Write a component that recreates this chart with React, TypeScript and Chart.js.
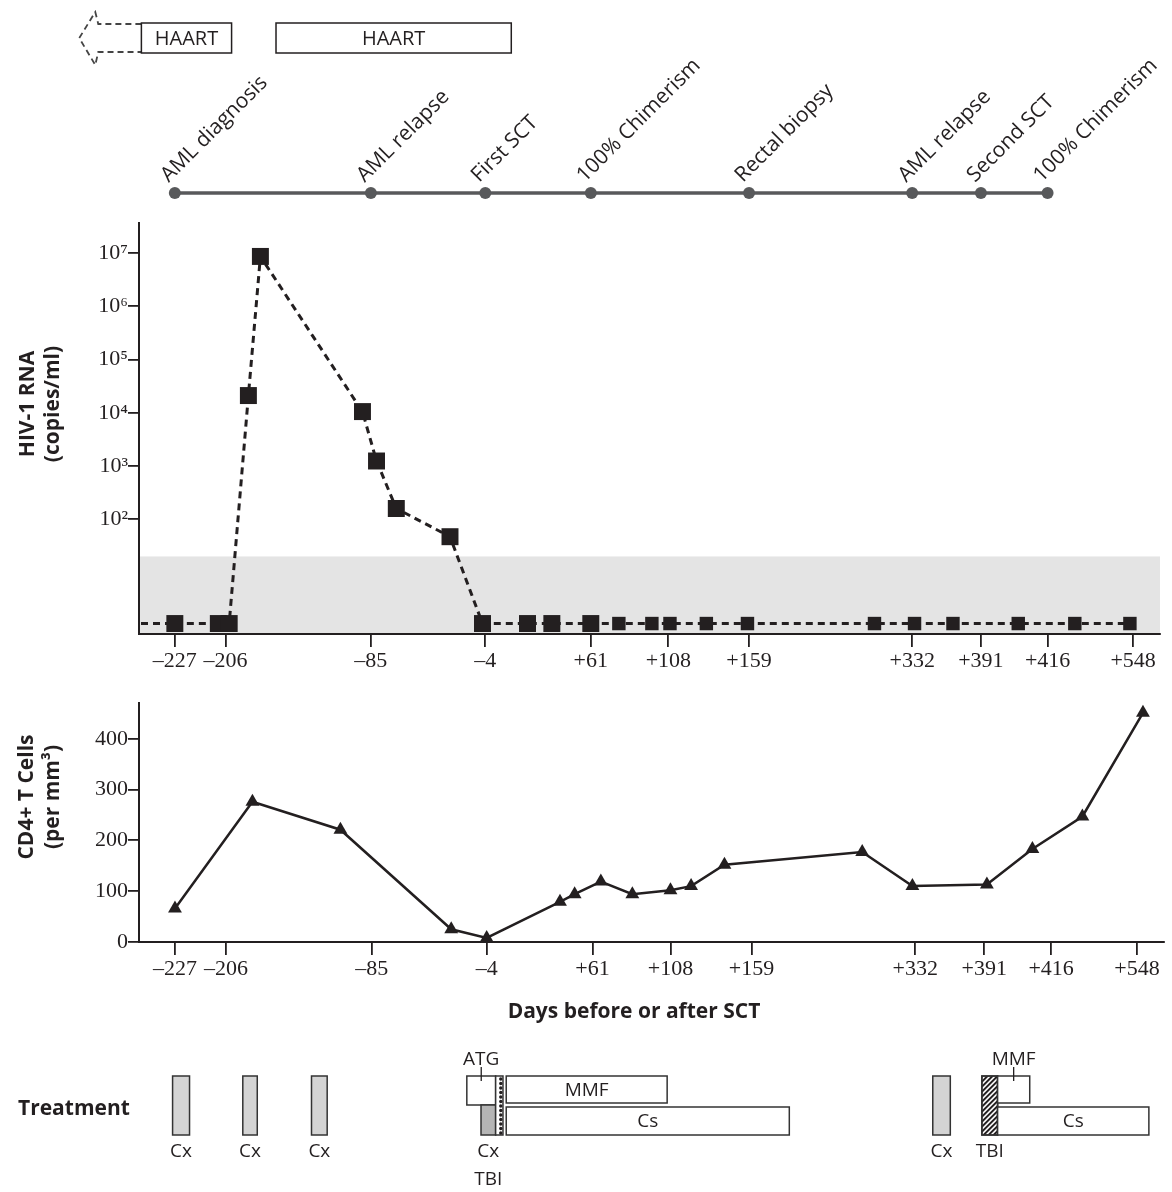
import React, { useEffect, useRef } from "react";
import { Chart, registerables, LinearScale } from "chart.js";

// ---------------- data (days relative to the first stem-cell transplantation) ----------------
const X_TICK_DAYS = [-227, -206, -85, -4, 61, 108, 159, 332, 391, 416, 548];
const HIV_TICKS = [1e2, 1e3, 1e4, 1e5, 1e6, 1e7];
const CD4_TICKS = [0, 100, 200, 300, 400];

const UNDETECTABLE = 1.1; // plotted level of samples below detection
const DETECTION_LIMIT = 20;

const HIV_DAYS = [-227, -209, -203, -187, -177, -92, -81, -67, -29, -6, 22, 37, 61, 78, 98, 109, 132, 158, 292, 334, 367, 405, 458, 543];
const U = UNDETECTABLE;
const HIV_COPIES = [U, U, U, 21000, 8600000, 10500, 1240, 159, 47, U, U, U, U, U, U, U, U, U, U, U, U, U, U, U];

const CD4_DAYS = [-227, -184, -111, -29, -4, 41, 50, 66, 85, 108, 121, 142, 276, 329, 392, 409, 464, 557];
const CD4_COUNTS = [66, 276, 221, 25, 8, 79, 94, 119, 94, 102, 110, 152, 177, 110, 113, 183, 247, 451];

const EVENT_DAYS = [-227, -85, -4, 61, 159, 332, 391, 416];
const EVENT_LABELS = ["AML diagnosis", "AML relapse", "First SCT", "100% Chimerism", "Rectal biopsy", "AML relapse", "Second SCT", "100% Chimerism"];

const HAART_PERIODS = [[-241, -201], [-164, 12]];
const HAART_PRIOR_TIP = -267; // dashed arrow: HAART before the plotted period

const CHEMO_CYCLES = [[-228, -221], [-192, -180], [-135, -122], [347, 362]]; // "Cx"
const ATG_PERIOD = [-18, 1.5];
const CX_CONDITIONING = [-8, 1.5];
const TBI_PERIODS = [[1.5, 6], [389, 396]];
const MMF_PERIODS = [[8, 106], [396, 408]];
const CS_PERIODS = [[8, 199], [396, 566]];

// ---------------- broken day axis (figure axis is not linear in days) ----------------
const KNOT_DAYS = [-242, -227, -206, -85, -4, 61, 108, 159, 332, 391, 416, 548, 589];
const KNOT_FRAC = [0, 0.0351, 0.0848, 0.2271, 0.3392, 0.4425, 0.5185, 0.5975, 0.7573, 0.8246, 0.8899, 0.9737, 1];

function interp(v: number, from: number[], to: number[]) {
  let i = 0;
  while (i < from.length - 2 && v > from[i + 1]) i++;
  return to[i] + ((v - from[i]) * (to[i + 1] - to[i])) / (from[i + 1] - from[i]);
}

class SegmentedDayScale extends LinearScale {
  static id = "segmentedDays";
  static defaults = {};
  getPixelForValue(value: any) {
    if (value === null || value === undefined || isNaN(value)) return NaN;
    return this.getPixelForDecimal(interp(value, KNOT_DAYS, KNOT_FRAC));
  }
  getValueForPixel(pixel: number) {
    return interp(this.getDecimalForPixel(pixel), KNOT_FRAC, KNOT_DAYS);
  }
}

Chart.register(...registerables, SegmentedDayScale);

// ---------------- styles ----------------
const INK = "#231f20";
const SANS = "'Open Sans', 'DejaVu Sans', sans-serif";
const SERIF = "'Liberation Serif', 'DejaVu Serif', serif";
const SUP: Record<number, string> = { 2: "\u00b2", 3: "\u00b3", 4: "\u2074", 5: "\u2075", 6: "\u2076", 7: "\u2077" };
const fmtDay = (v: number) => (v < 0 ? "\u2013" + Math.abs(v) : "+" + v);

function dayAxis(height: number) {
  return {
    type: "segmentedDays",
    min: KNOT_DAYS[0],
    max: KNOT_DAYS[KNOT_DAYS.length - 1],
    afterBuildTicks: (s: any) => {
      s.ticks = X_TICK_DAYS.map((v) => ({ value: v }));
    },
    afterFit: (s: any) => {
      s.height = height;
    },
    ticks: {
      autoSkip: false,
      maxRotation: 0,
      padding: 1,
      color: INK,
      font: { family: SERIF, size: 22 },
      callback: (v: any) => fmtDay(Number(v)),
    },
    grid: { drawOnChartArea: false, tickLength: 13, color: INK, lineWidth: 1.8 },
    border: { display: true, color: INK, width: 2 },
  };
}

function yAxisCommon() {
  return {
    afterFit: (s: any) => {
      s.width = 139;
    },
    grid: { drawOnChartArea: false, tickLength: 11, color: INK, lineWidth: 1.8 },
    border: { display: true, color: INK, width: 2 },
  };
}

function drawVerticalTitle(ctx: CanvasRenderingContext2D, lines: string[], xs: number[], cy: number) {
  ctx.save();
  ctx.font = `bold 21px ${SANS}`;
  ctx.fillStyle = INK;
  ctx.textAlign = "center";
  ctx.textBaseline = "middle";
  lines.forEach((t, i) => {
    ctx.save();
    ctx.translate(xs[i], cy);
    ctx.rotate(-Math.PI / 2);
    ctx.fillText(t, 0, 0);
    ctx.restore();
  });
  ctx.restore();
}

function box(ctx: CanvasRenderingContext2D, l: number, r: number, t: number, b: number, fill: string) {
  ctx.fillStyle = fill;
  ctx.fillRect(l, t, r - l, b - t);
  ctx.strokeStyle = "#333";
  ctx.lineWidth = 1.5;
  ctx.setLineDash([]);
  ctx.strokeRect(l, t, r - l, b - t);
}

const hivDecor = {
  id: "hivDecor",
  beforeDraw(chart: any) {
    const { ctx, chartArea, scales } = chart;
    const yTop = scales.y.getPixelForValue(DETECTION_LIMIT);
    ctx.save();
    ctx.fillStyle = "#e4e4e4";
    ctx.fillRect(chartArea.left, yTop, chartArea.right - chartArea.left, chartArea.bottom - yTop);
    ctx.restore();
  },
  beforeDatasetsDraw(chart: any) {
    const { ctx, chartArea } = chart;
    const p0 = chart.getDatasetMeta(0).data[0];
    ctx.save();
    ctx.strokeStyle = INK;
    ctx.lineWidth = 3;
    ctx.setLineDash([7, 5]);
    ctx.beginPath();
    ctx.moveTo(chartArea.left + 2, p0.y);
    ctx.lineTo(p0.x, p0.y);
    ctx.stroke();
    ctx.restore();
  },
  afterDraw(chart: any) {
    const { ctx, scales } = chart;
    const x = scales.x;
    drawVerticalTitle(ctx, ["HIV-1 RNA", "(copies/ml)"], [28, 53], 404);

    // timeline
    const TL_Y = 193;
    const xs = EVENT_DAYS.map((d) => x.getPixelForValue(d));
    ctx.save();
    ctx.strokeStyle = "#58595b";
    ctx.lineWidth = 3.5;
    ctx.beginPath();
    ctx.moveTo(xs[0], TL_Y);
    ctx.lineTo(xs[xs.length - 1], TL_Y);
    ctx.stroke();
    ctx.fillStyle = "#58595b";
    xs.forEach((px) => {
      ctx.beginPath();
      ctx.arc(px, TL_Y, 6, 0, Math.PI * 2);
      ctx.fill();
    });
    ctx.fillStyle = INK;
    ctx.font = `21px ${SANS}`;
    ctx.textAlign = "left";
    ctx.textBaseline = "alphabetic";
    xs.forEach((px, i) => {
      ctx.save();
      ctx.translate(px - 6, TL_Y - 10);
      ctx.rotate(-Math.PI / 4);
      ctx.fillText(EVENT_LABELS[i], 0, 0);
      ctx.restore();
    });

    // HAART bars
    const HT = 23, HB = 53;
    const tip = x.getPixelForValue(HAART_PRIOR_TIP);
    const firstL = x.getPixelForValue(HAART_PERIODS[0][0]);
    ctx.strokeStyle = "#444";
    ctx.lineWidth = 1.8;
    ctx.setLineDash([6, 4]);
    ctx.beginPath();
    ctx.moveTo(firstL, HT + 1);
    ctx.lineTo(tip + 19, HT + 1);
    ctx.lineTo(tip + 16, HT - 11);
    ctx.lineTo(tip, (HT + HB) / 2);
    ctx.lineTo(tip + 16, HB + 12);
    ctx.lineTo(tip + 19, HB - 1);
    ctx.lineTo(firstL, HB - 1);
    ctx.stroke();
    ctx.setLineDash([]);
    HAART_PERIODS.forEach(([s, e]) => {
      const l = x.getPixelForValue(s);
      const r = x.getPixelForValue(e);
      ctx.fillStyle = "#fff";
      ctx.fillRect(l, HT, r - l, HB - HT);
      ctx.strokeStyle = INK;
      ctx.lineWidth = 1.5;
      ctx.strokeRect(l, HT, r - l, HB - HT);
      ctx.fillStyle = INK;
      ctx.font = `20px ${SANS}`;
      ctx.textAlign = "center";
      ctx.textBaseline = "middle";
      ctx.fillText("HAART", (l + r) / 2, (HT + HB) / 2 + 1);
    });
    ctx.restore();
  },
};

const cd4Decor = {
  id: "cd4Decor",
  afterDraw(chart: any) {
    const { ctx, scales } = chart;
    const x = scales.x;
    drawVerticalTitle(ctx, ["CD4+ T Cells", "(per mm\u00b3)"], [27, 53], 107);
    ctx.save();
    ctx.fillStyle = INK;
    ctx.font = `bold 21px ${SANS}`;
    ctx.textAlign = "center";
    ctx.textBaseline = "middle";
    ctx.fillText("Days before or after SCT", 634, 322);
    ctx.textAlign = "left";
    ctx.fillText("Treatment", 18, 419);

    const T = 386, M1 = 413, M2 = 417, B = 445;
    const LBL1 = 462, LBL2 = 490, ABOVE = 370;
    const px = (d: number) => x.getPixelForValue(d);
    const label = (t: string, cx: number, cy: number) => {
      ctx.fillStyle = INK;
      ctx.font = `19px ${SANS}`;
      ctx.textAlign = "center";
      ctx.textBaseline = "middle";
      ctx.fillText(t, cx, cy);
    };
    const tickLine = (cx: number) => {
      ctx.strokeStyle = INK;
      ctx.lineWidth = 1.3;
      ctx.setLineDash([]);
      ctx.beginPath();
      ctx.moveTo(cx, ABOVE + 7);
      ctx.lineTo(cx, T + 5);
      ctx.stroke();
    };

    // chemotherapy cycles
    CHEMO_CYCLES.forEach(([s, e]) => {
      box(ctx, px(s), px(e), T, B, "#d4d4d4");
      label("Cx", (px(s) + px(e)) / 2, LBL1);
    });

    // first conditioning: ATG + Cx + TBI
    box(ctx, px(ATG_PERIOD[0]), px(ATG_PERIOD[1]), T, M1 + 2, "#fff");
    box(ctx, px(CX_CONDITIONING[0]), px(CX_CONDITIONING[1]), M1 + 2, B, "#b5b5b5");
    const atgC = (px(ATG_PERIOD[0]) + px(ATG_PERIOD[1])) / 2;
    label("ATG", atgC, ABOVE);
    tickLine(atgC);
    const cxC = (px(CX_CONDITIONING[0]) + px(CX_CONDITIONING[1])) / 2;
    label("Cx", cxC, LBL1);

    // TBI 1 (dotted)
    {
      const l = px(TBI_PERIODS[0][0]), r = px(TBI_PERIODS[0][1]);
      box(ctx, l, r, T, B, "#fff");
      ctx.fillStyle = INK;
      for (let yy = T + 3; yy < B - 1; yy += 4.5) {
        ctx.beginPath();
        ctx.arc(r - 2.2, yy, 1.7, 0, Math.PI * 2);
        ctx.fill();
      }
      label("TBI", cxC, LBL2);
    }
    // TBI 2 (hatched)
    {
      const l = px(TBI_PERIODS[1][0]), r = px(TBI_PERIODS[1][1]);
      box(ctx, l, r, T, B, "#fff");
      ctx.save();
      ctx.beginPath();
      ctx.rect(l, T, r - l, B - T);
      ctx.clip();
      ctx.strokeStyle = INK;
      ctx.lineWidth = 2;
      for (let k = -30; k < B - T + 30; k += 5) {
        ctx.beginPath();
        ctx.moveTo(l - 5, T + k + (r - l) + 5);
        ctx.lineTo(r + 5, T + k - 5);
        ctx.stroke();
      }
      ctx.restore();
      ctx.strokeStyle = "#333";
      ctx.lineWidth = 1.5;
      ctx.strokeRect(l, T, r - l, B - T);
      label("TBI", (l + r) / 2, LBL1);
    }

    // MMF and Cs
    MMF_PERIODS.forEach(([s, e]) => {
      const l = px(s), r = px(e);
      box(ctx, l, r, T, M1, "#fff");
      if (r - l > 60) label("MMF", (l + r) / 2, (T + M1) / 2 + 1);
      else {
        label("MMF", (l + r) / 2, ABOVE);
        tickLine((l + r) / 2);
      }
    });
    CS_PERIODS.forEach(([s, e]) => {
      const l = px(s), r = px(e);
      box(ctx, l, r, M2, B, "#fff");
      label("Cs", (l + r) / 2, (M2 + B) / 2 + 1);
    });
    ctx.restore();
  },
};

export default function App() {
  const topRef = useRef<HTMLCanvasElement>(null);
  const botRef = useRef<HTMLCanvasElement>(null);

  useEffect(() => {
    const hiv = new Chart(topRef.current as HTMLCanvasElement, {
      type: "line",
      data: {
        datasets: [
          {
            data: HIV_DAYS.map((d, i) => ({ x: d, y: HIV_COPIES[i] })),
            borderColor: INK,
            borderWidth: 3,
            borderDash: [7, 5],
            pointStyle: "rect",
            pointRadius: HIV_DAYS.map((d) => (d <= 61 ? 12 : 9.5)),
            pointBackgroundColor: INK,
            pointBorderColor: INK,
            pointBorderWidth: 0,
            tension: 0,
            clip: false,
          } as any,
        ],
      },
      options: {
        responsive: false,
        animation: false,
        layout: { padding: { top: 223, right: 7, left: 0, bottom: 0 } },
        plugins: { legend: { display: false }, tooltip: { enabled: false } },
        scales: {
          x: dayAxis(56) as any,
          y: {
            type: "logarithmic",
            min: 0.726,
            max: 3.65e7,
            ...yAxisCommon(),
            afterBuildTicks: (s: any) => {
              s.ticks = HIV_TICKS.map((v) => ({ value: v }));
            },
            ticks: {
              autoSkip: false,
              padding: 0,
              color: INK,
              font: { family: SERIF, size: 22 },
              callback: (v: any) => "10" + SUP[Math.round(Math.log10(Number(v)))],
            },
          } as any,
        },
      },
      plugins: [hivDecor],
    });

    const cd4 = new Chart(botRef.current as HTMLCanvasElement, {
      type: "line",
      data: {
        datasets: [
          {
            data: CD4_DAYS.map((d, i) => ({ x: d, y: CD4_COUNTS[i] })),
            borderColor: INK,
            borderWidth: 2.5,
            pointStyle: "triangle",
            pointRadius: 8,
            pointBackgroundColor: INK,
            pointBorderColor: INK,
            pointBorderWidth: 0,
            tension: 0,
            clip: false,
          } as any,
        ],
      },
      options: {
        responsive: false,
        animation: false,
        layout: { padding: { top: 10, right: 7, left: 0, bottom: 0 } },
        plugins: { legend: { display: false }, tooltip: { enabled: false } },
        scales: {
          x: dayAxis(250) as any,
          y: {
            type: "linear",
            min: 0,
            max: 470,
            ...yAxisCommon(),
            afterBuildTicks: (s: any) => {
              s.ticks = CD4_TICKS.map((v) => ({ value: v }));
            },
            ticks: {
              autoSkip: false,
              padding: 0,
              color: INK,
              font: { family: SERIF, size: 22 },
            },
          } as any,
        },
      },
      plugins: [cd4Decor],
    });

    return () => {
      hiv.destroy();
      cd4.destroy();
    };
  }, []);

  return (
    <div style={{ position: "absolute", left: 0, top: 0, width: 1172, height: 1192, background: "#fff" }}>
      <canvas ref={topRef} width={1172} height={690} style={{ position: "absolute", left: 0, top: 0 }} />
      <canvas ref={botRef} width={1172} height={502} style={{ position: "absolute", left: 0, top: 690 }} />
    </div>
  );
}
